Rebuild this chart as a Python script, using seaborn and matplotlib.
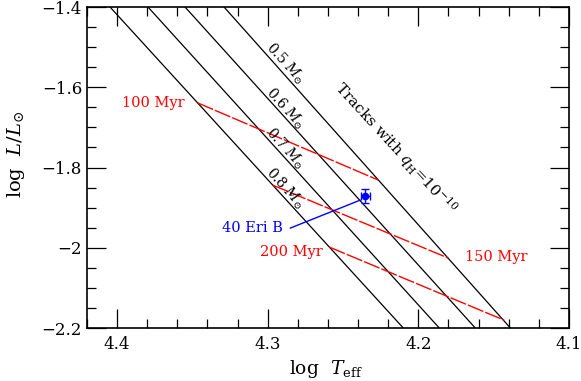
import numpy as np
import pandas as pd
import matplotlib
matplotlib.use('Agg')
import matplotlib.pyplot as plt
import seaborn as sns
from matplotlib.ticker import MultipleLocator

# evolutionary tracks with q_H = 1e-10 (log Teff where each track meets log L = -1.4 and -2.2)
track_mass = ['0.8', '0.7', '0.6', '0.5']
track_logl = [-1.4, -2.2]
track_teff_top = [4.4047, 4.3795, 4.3549, 4.3290]
track_teff_bot = [4.2100, 4.1861, 4.1622, 4.1389]

# isochrones
iso_age = ['100 Myr', '150 Myr', '200 Myr']
iso_teff = [[4.3465, 4.2265], [4.2967, 4.1800], [4.2590, 4.1430]]
iso_logl = [[-1.639, -1.8314], [-1.8439, -2.0259], [-1.9985, -2.1805]]

# 40 Eri B
star_name = '40 Eri B'
star_teff = 4.2353
star_logl = -1.8713
star_teff_err = 0.003
star_logl_err = 0.018

xticks = [4.4, 4.3, 4.2, 4.1]
xticklabels = ['4.4', '4.3', '4.2', '4.1']
yticks = [-1.4, -1.6, -1.8, -2.0, -2.2]
yticklabels = ['\u22121.4', '\u22121.6', '\u22121.8', '\u22122', '\u22122.2']

sns.set_theme(style='ticks')
plt.rcParams['font.family'] = ['DejaVu Serif']
plt.rcParams['mathtext.fontset'] = 'dejavuserif'

# long format tables for seaborn
tracks_df = pd.DataFrame({
    'mass': np.repeat(track_mass, 2),
    'logT': np.ravel(np.column_stack([track_teff_top, track_teff_bot])),
    'logL': np.tile(track_logl, len(track_mass)),
})
iso_df = pd.DataFrame({
    'age': np.repeat(iso_age, 2),
    'logT': np.ravel(iso_teff),
    'logL': np.ravel(iso_logl),
})

fig = plt.figure(figsize=(5.81, 3.81), dpi=100)
ax = fig.add_axes([0.1497, 0.1391, 0.8296, 0.8425])

sns.lineplot(data=tracks_df, x='logT', y='logL', units='mass', estimator=None,
             sort=False, color='black', lw=0.9, ax=ax, legend=False)
sns.lineplot(data=iso_df, x='logT', y='logL', units='age', estimator=None,
             sort=False, color='red', lw=1.0, ax=ax, legend=False)
for ln in ax.lines[len(track_mass):]:
    ln.set_dashes((12, 1.5))

ax.errorbar([star_teff], [star_logl], xerr=[star_teff_err], yerr=[star_logl_err],
            fmt='o', color='blue', ms=4.5, capsize=3, elinewidth=1, capthick=1)

ax.set_xlim(4.42, 4.1)
ax.set_ylim(-2.2, -1.4)

# labels on the tracks
rot = -47.5
mass_y = [-1.8514, -1.7516, -1.652, -1.5397]
for m, yy in zip(track_mass, mass_y):
    ax.text(4.2885, yy, m + r' $M_{\odot}$', rotation=rot, rotation_mode='anchor',
            ha='center', va='center', fontsize=10, color='black')
ax.text(4.2150, -1.752, r'Tracks with $q_{\rm H}$=10$^{-10}$', rotation=rot,
        rotation_mode='anchor', ha='center', va='center', fontsize=11, color='black')

# isochrone labels
ax.text(4.3549, -1.639, '100 Myr', ha='right', va='center', fontsize=10.5, color='red')
ax.text(4.1688, -2.0234, '150 Myr', ha='left', va='center', fontsize=10.5, color='red')
ax.text(4.2632, -2.011, '200 Myr', ha='right', va='center', fontsize=10.5, color='red')

# star label
ax.plot([4.2851, 4.2386], [-1.9511, -1.8813], color='blue', lw=1)
ax.text(4.2898, -1.951, star_name, ha='right', va='center', fontsize=10.5, color='blue')

ax.set_xticks(xticks)
ax.set_xticklabels(xticklabels)
ax.set_yticks(yticks)
ax.set_yticklabels(yticklabels)
ax.xaxis.set_minor_locator(MultipleLocator(0.02))
ax.yaxis.set_minor_locator(MultipleLocator(0.05))
ax.tick_params(which='both', direction='in', top=True, right=True, colors='black',
               labelsize=12, width=0.9)
ax.tick_params(which='major', length=13.5)
ax.tick_params(which='minor', length=6.8)
ax.tick_params(axis='x', pad=6)
ax.tick_params(axis='y', pad=3.5)
for s in ax.spines.values():
    s.set_linewidth(1.2)
    s.set_color('black')

ax.set_xlabel(r'log  $T_{\rm eff}$', fontsize=13.5, color='black')
ax.set_ylabel(r'log  $L/L_{\odot}$', fontsize=14, color='black')
ax.xaxis.set_label_coords(0.496, -0.093)
ax.yaxis.set_label_coords(-0.125, 0.542)

fig.savefig('out.png', dpi=100)
